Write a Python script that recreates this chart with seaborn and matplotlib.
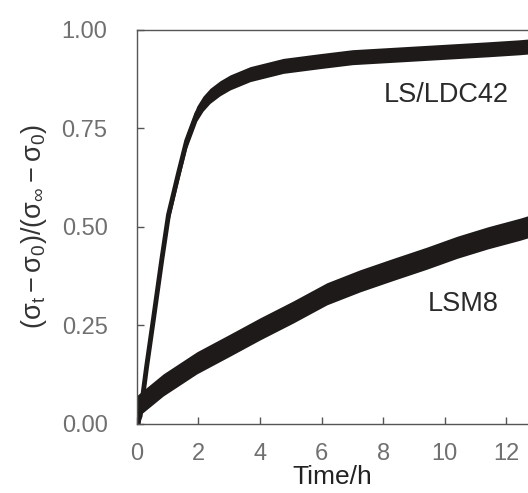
import matplotlib
matplotlib.use('Agg')
import matplotlib.pyplot as plt
import seaborn as sns
import pandas as pd

# values (band centre)
ls_time = [0, 0.11, 0.32, 0.54, 0.81, 1.03, 1.35, 1.62, 1.95, 2.15, 2.38, 2.7, 3.03, 3.68,
           4.76, 5.95, 7.0, 8.1, 9.2, 10.3, 11.4, 12.4, 12.7]
ls_value = [0.0, 0.02, 0.145, 0.265, 0.415, 0.53, 0.634, 0.718, 0.787, 0.812, 0.832, 0.851, 0.866, 0.887,
            0.908, 0.92, 0.93, 0.935, 0.94, 0.945, 0.95, 0.955, 0.957]

lsm_time = [0, 0.86, 1.95, 3.03, 4.0, 5.08, 6.17, 7.25, 8.33, 9.4, 10.4, 11.4, 12.45, 12.7]
lsm_value = [0.044, 0.099, 0.155, 0.20, 0.241, 0.284, 0.33, 0.363, 0.392, 0.42, 0.448, 0.472, 0.494, 0.50]

# half height of the noisy band for each trace
ls_spread = 0.019
lsm_spread = 0.028

x_ticks = [0, 2, 4, 6, 8, 10, 12]
y_ticks = [0.00, 0.25, 0.50, 0.75, 1.00]

sns.set_style('ticks')
plt.rcParams['font.family'] = ['Liberation Sans', 'DejaVu Sans']
plt.rcParams['mathtext.fontset'] = 'custom'
plt.rcParams['mathtext.rm'] = 'Liberation Sans'
plt.rcParams['mathtext.it'] = 'Liberation Sans'

df_ls = pd.DataFrame({'t': ls_time, 'v': ls_value})
df_lsm = pd.DataFrame({'t': lsm_time, 'v': lsm_value})

fig = plt.figure(figsize=(5.28, 4.93), dpi=100)
ax = fig.add_axes([0.259, 0.140, 0.741, 0.800])

ink = '#1e1a1a'
for df, spread in [(df_ls, ls_spread), (df_lsm, lsm_spread)]:
    ax.fill_between(df['t'], df['v'] - spread, df['v'] + spread, color=ink, lw=0)
    sns.lineplot(data=df, x='t', y='v', ax=ax, color=ink, lw=3.5)

ax.set_xlim(0, 12.7)
ax.set_ylim(0, 1)
ax.set_xticks(x_ticks)
ax.set_yticks(y_ticks)
ax.set_yticklabels([f'{v:.2f}' for v in y_ticks])

ax.spines['right'].set_visible(False)
for s in ['left', 'bottom', 'top']:
    ax.spines[s].set_color('#555555')
    ax.spines[s].set_linewidth(1.0)

ax.tick_params(axis='both', direction='in', length=5, width=1, color='#555555',
               labelcolor='#707070', labelsize=17)
ax.tick_params(axis='y', pad=21)
ax.tick_params(axis='x', pad=14)

ax.set_xlabel('Time/h', fontsize=19, color='#222222', labelpad=0)
ax.set_ylabel(r'$\mathregular{(\sigma_t-\sigma_0)/(\sigma_\infty - \sigma_0)}$',
              fontsize=19.5, color='#333333', labelpad=9)

ax.text(10.05, 0.835, 'LS/LDC42', fontsize=19.5, color='#2a2a2a', ha='center', va='center')
ax.text(10.6, 0.305, 'LSM8', fontsize=19.5, color='#2a2a2a', ha='center', va='center')

fig.savefig('out.png', dpi=100)
